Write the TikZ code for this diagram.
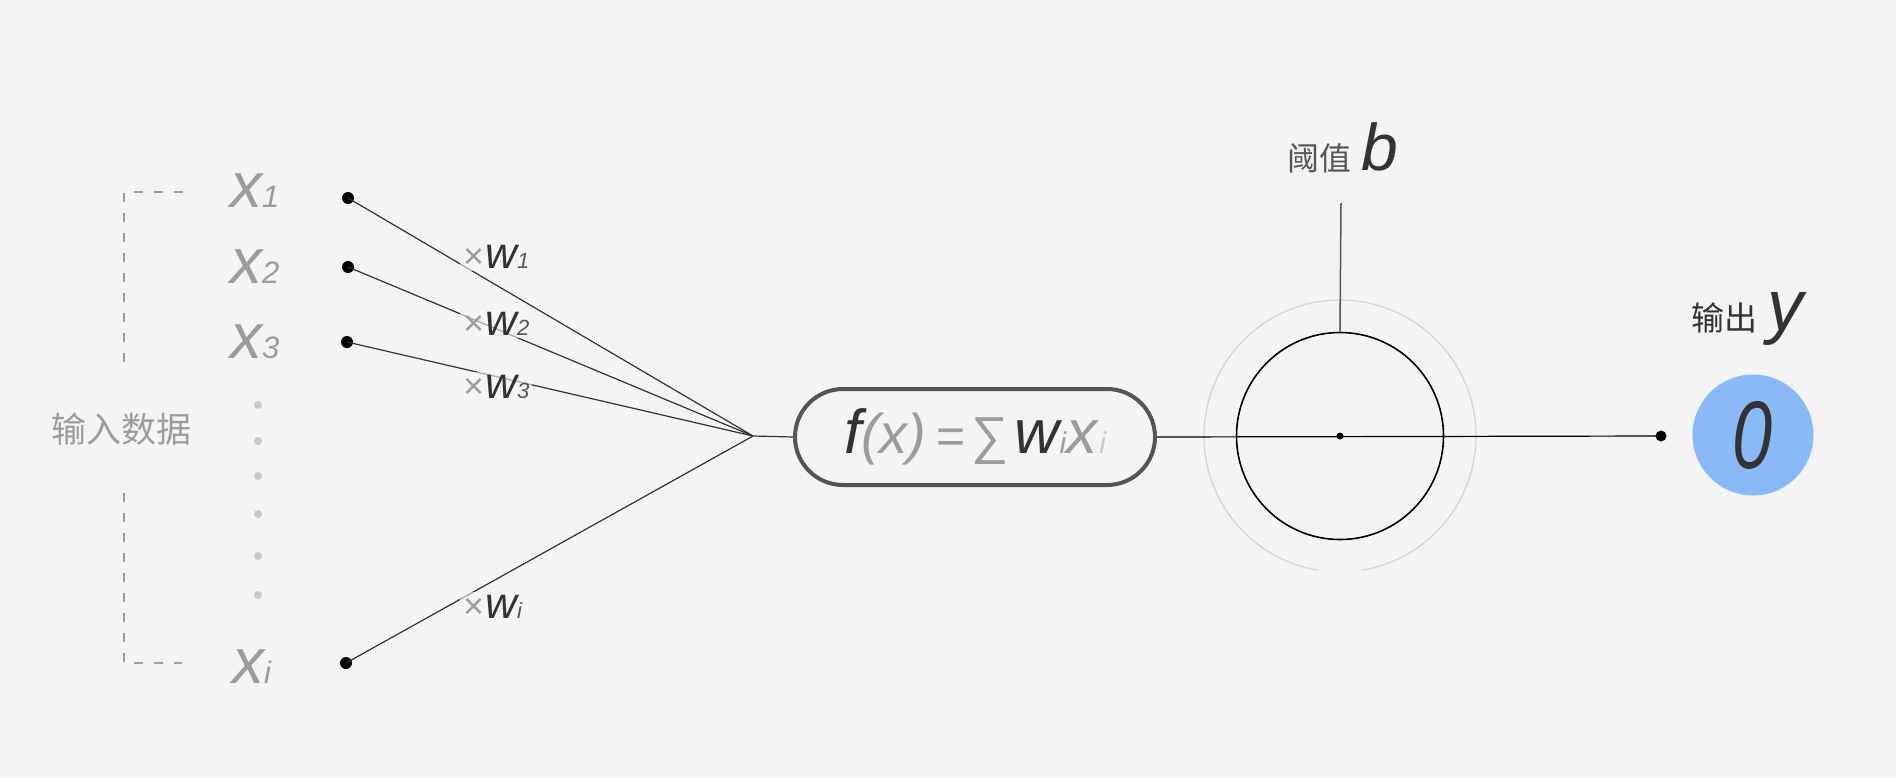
\documentclass[tikz,border=0pt]{standalone}
\usepackage{fontspec}
\setmainfont{Liberation Sans}
\newfontfamily\cjk{Noto Sans CJK SC}
\definecolor{bg}{HTML}{F4F4F4}
\definecolor{lgray}{HTML}{9C9C9C}
\definecolor{dgray}{HTML}{333333}
\definecolor{mgray}{HTML}{555555}
\definecolor{dotgray}{HTML}{C8C8C8}
\definecolor{ringgray}{HTML}{D2D2D2}
\definecolor{blue1}{HTML}{8AB9F7}
\newcommand\fs[1]{\fontsize{#1}{#1}\selectfont}
\newcommand\myX[1]{{\fs{64}\itshape x}{\fs{31}\itshape #1}}
\newcommand\myW[1]{{\fs{36}\color{lgray}\texttimes}\kern1pt{\fs{44}\itshape\color{dgray}w}{\fs{22}\itshape\color{mgray}#1}}
\tikzset{
  xlab/.style={anchor=base west, inner sep=0pt, text=lgray},
  wlab/.style={anchor=base west, inner sep=3pt, fill=bg, fill opacity=0.6, text opacity=1},
  indot/.style={circle, fill=black, inner sep=0pt, minimum size=12pt},
  vdot/.style={circle, fill=dotgray, inner sep=0pt, minimum size=8pt},
  wire/.style={draw=dgray, line width=1.2pt},
  bracket/.style={draw=lgray, line width=1.4pt, dash pattern=on 9pt off 11pt},
}
\begin{document}
\begin{tikzpicture}[x=1pt,y=-1pt]
\useasboundingbox (0,0) rectangle (1896,777);
\fill[bg] (0,0) rectangle (1896,777);

% bracket
\draw[bracket] (183,192) -- (124,192) -- (124,362);
\draw[bracket] (124,493) -- (124,663) -- (182,663);
\node[text=lgray, font=\cjk\fs{35}] (inlab) at (121,429) {输入数据};

% input labels
\node[xlab] (x1) at (230,207) {\myX{1}};
\node[xlab] (x2) at (230,283) {\myX{2}};
\node[xlab] (x3) at (230,358) {\myX{3}};
\node[xlab] (xi) at (232,683) {\myX{i}};

% vertical dots
\foreach \y/\n in {405/a,441/b,476/c,514/d,556/e,595/f}
  \node[vdot] (v\n) at (258,\y) {};

% input dots
\node[indot] (d1) at (348,198) {};
\node[indot] (d2) at (348,267) {};
\node[indot] (d3) at (347,342) {};
\node[indot] (di) at (346,663) {};

\coordinate (conv) at (753,436);

% pill
\node[draw=mgray, line width=4pt, rounded corners=48pt, minimum width=360pt, minimum height=96pt, inner sep=0pt] (pill) at (975,437)
  {{\fs{62}\color{dgray}\itshape f}{\fs{56}\color{lgray}\itshape (x)}\kern10pt{\fs{50}\color{lgray}=}\kern6pt{\fs{52}\color{lgray}∑}\kern6pt{\fs{62}\color{dgray}\itshape w}{\fs{30}\color{lgray}\itshape i}{\fs{62}\color{lgray}\itshape x}\kern2pt{\fs{30}\color{dotgray}\itshape i}};

% wires
\draw[wire] (d1.center) -- (conv);
\draw[wire] (d2.center) -- (conv);
\draw[wire] (d3.center) -- (conv);
\draw[wire] (di.center) -- (conv);
\draw[wire] (conv) -- (pill.west);

% weight labels
\node[wlab] (w1) at (460,268) {\myW{1}};
\node[wlab] (w2) at (460,335) {\myW{2}};
\node[wlab] (w3) at (460,398) {\myW{3}};
\node[wlab] (wi) at (460,618) {\myW{i}};

% neuron
\node[circle, draw=black, line width=1.6pt, minimum size=207pt, inner sep=0pt] (neuron) at (1340,436) {};
\draw[ringgray, line width=1.2pt] (1340,436) ++(99:136) arc[start angle=99, end angle=441, radius=136];
\node[circle, fill=black, inner sep=0pt, minimum size=7pt] (cdot) at (1340,436) {};
\coordinate (btop) at (1341,203);
\draw[draw=mgray, line width=1.5pt] (btop) -- (neuron.north);
\node[anchor=base west, inner sep=0pt] (blab) at (1287,170) {{\cjk\fs{32}\color{mgray}阈值}\kern10pt{\fs{66}\itshape\color{dgray}b}};

% output
\node[indot, minimum size=11pt] (odot) at (1661,436) {};
\draw[wire, draw=black] (pill.east) -- (odot.center);
\node[circle, fill=blue1, minimum size=121pt, inner sep=0pt] (out) at (1753,435) {\scalebox{0.75}[1]{\fs{96}\itshape\color{dgray}0}};
\node[anchor=base west, inner sep=0pt] (ylab) at (1691,330) {{\cjk\fs{33}\color{dgray}输出}\kern10pt{\fs{72}\itshape\color{dgray}y}};
\end{tikzpicture}
\end{document}
